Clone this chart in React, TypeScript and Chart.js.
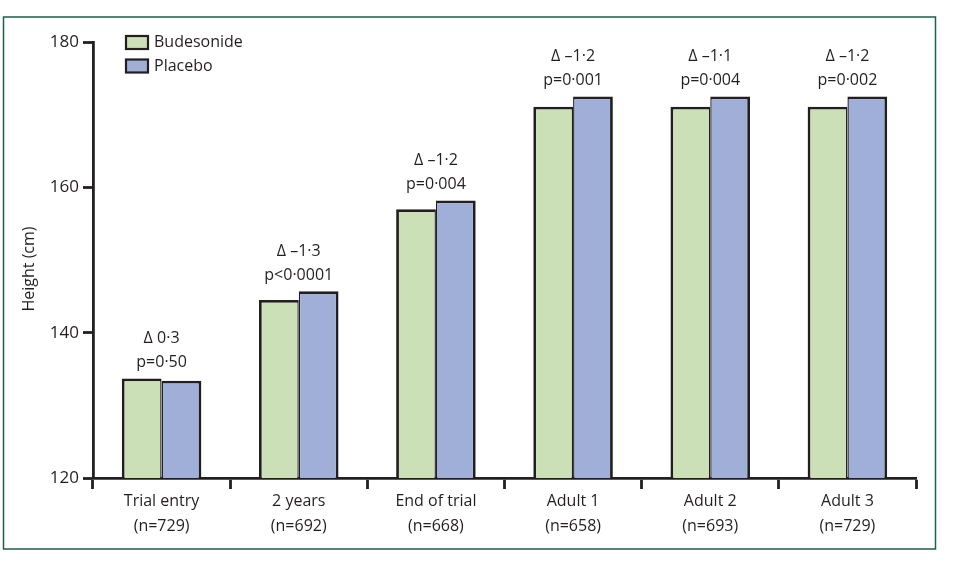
import React, { useEffect, useRef } from "react";
import { Chart, registerables } from "chart.js";

Chart.register(...registerables);

const categories: string[][] = [
  ["Trial entry", "(n=729)"],
  ["2 years", "(n=692)"],
  ["End of trial", "(n=668)"],
  ["Adult 1", "(n=658)"],
  ["Adult 2", "(n=693)"],
  ["Adult 3", "(n=729)"],
];
const budesonide = [133.7, 144.5, 157.0, 171.1, 171.1, 171.1];
const placebo = [133.4, 145.7, 158.2, 172.5, 172.5, 172.5];
const deltaLabels = ["Δ 0·3", "Δ –1·3", "Δ –1·2", "Δ –1·2", "Δ –1·1", "Δ –1·2"];
const pLabels = ["p=0·50", "p<0·0001", "p=0·004", "p=0·001", "p=0·004", "p=0·002"];
const seriesNames = ["Budesonide", "Placebo"];
const yTicks = [120, 140, 160, 180];

const GREEN = "#cbe0b6";
const BLUE = "#a0afd7";
const INK = "#231f20";
const FONT = "'Open Sans', sans-serif";

const overlayPlugin = {
  id: "overlay",
  afterDraw(chart: any) {
    const ctx = chart.ctx;
    const x = chart.scales.x;
    const y = chart.scales.y;
    ctx.save();
    // frame
    ctx.strokeStyle = "#1f5f45";
    ctx.lineWidth = 1.5;
    ctx.strokeRect(3.5, 17, 932, 532);
    // annotations
    ctx.fillStyle = INK;
    ctx.font = `16px ${FONT}`;
    ctx.textAlign = "center";
    ctx.textBaseline = "middle";
    categories.forEach((_, i) => {
      const cx = x.getPixelForValue(i);
      const top = y.getPixelForValue(Math.max(budesonide[i], placebo[i]));
      ctx.fillText(deltaLabels[i], cx, top - 40);
      ctx.fillText(pLabels[i], cx, top - 16);
    });
    // y title
    ctx.save();
    ctx.translate(29, 269);
    ctx.rotate(-Math.PI / 2);
    ctx.fillText("Height (cm)", 0, 0);
    ctx.restore();
    // legend
    const cols = [GREEN, BLUE];
    seriesNames.forEach((name, i) => {
      const by = 36 + i * 23.5;
      ctx.fillStyle = cols[i];
      ctx.fillRect(126, by, 22, 13);
      ctx.strokeStyle = INK;
      ctx.lineWidth = 2.2;
      ctx.strokeRect(126, by, 22, 13);
      ctx.fillStyle = INK;
      ctx.textAlign = "left";
      ctx.fillText(name, 154, by + 6.5);
    });
    ctx.restore();
  },
};

export default function App() {
  const ref = useRef<HTMLCanvasElement>(null);
  useEffect(() => {
    if (!ref.current) return;
    const chart = new Chart(ref.current, {
      type: "bar",
      data: {
        labels: categories,
        datasets: [
          {
            label: seriesNames[0],
            data: budesonide,
            backgroundColor: GREEN,
            borderColor: INK,
            borderWidth: { top: 2.8, left: 2.8, right: 1.4, bottom: 0 },
            borderSkipped: false,
          },
          {
            label: seriesNames[1],
            data: placebo,
            backgroundColor: BLUE,
            borderColor: INK,
            borderWidth: { top: 2.8, left: 1.4, right: 2.8, bottom: 0 },
            borderSkipped: false,
          },
        ],
      },
      options: {
        animation: false,
        responsive: false,
        maintainAspectRatio: false,
        layout: { padding: { left: 0, top: 42, right: 38, bottom: 0 } },
        plugins: { legend: { display: false }, tooltip: { enabled: false } },
        datasets: { bar: { categoryPercentage: 0.58, barPercentage: 1.0 } },
        scales: {
          x: {
            grid: {
              offset: true,
              drawOnChartArea: false,
              drawTicks: true,
              tickLength: 11,
              tickWidth: 2.8,
              tickColor: INK,
            },
            border: { color: INK, width: 2.8 },
            ticks: {
              color: INK,
              font: { family: FONT, size: 16, lineHeight: 1.55 },
              padding: 0,
              maxRotation: 0,
              autoSkip: false,
            },
            afterFit(scale: any) {
              scale.height = 89;
            },
          },
          y: {
            min: 120,
            max: 180,
            afterBuildTicks(scale: any) {
              scale.ticks = yTicks.map((v) => ({ value: v }));
            },
            grid: {
              drawOnChartArea: false,
              drawTicks: true,
              tickLength: 10,
              tickWidth: 2.8,
              tickColor: INK,
            },
            border: { color: INK, width: 2.8 },
            ticks: {
              color: INK,
              font: { family: FONT, size: 17 },
              padding: 4,
            },
            afterFit(scale: any) {
              scale.width = 93;
            },
          },
        },
      },
      plugins: [overlayPlugin],
    });
    return () => chart.destroy();
  }, []);
  return (
    <div style={{ position: "fixed", left: 0, top: 0, width: 954, height: 567, background: "#fff" }}>
      <canvas ref={ref} width={954} height={567} style={{ display: "block", width: 954, height: 567 }} />
    </div>
  );
}
